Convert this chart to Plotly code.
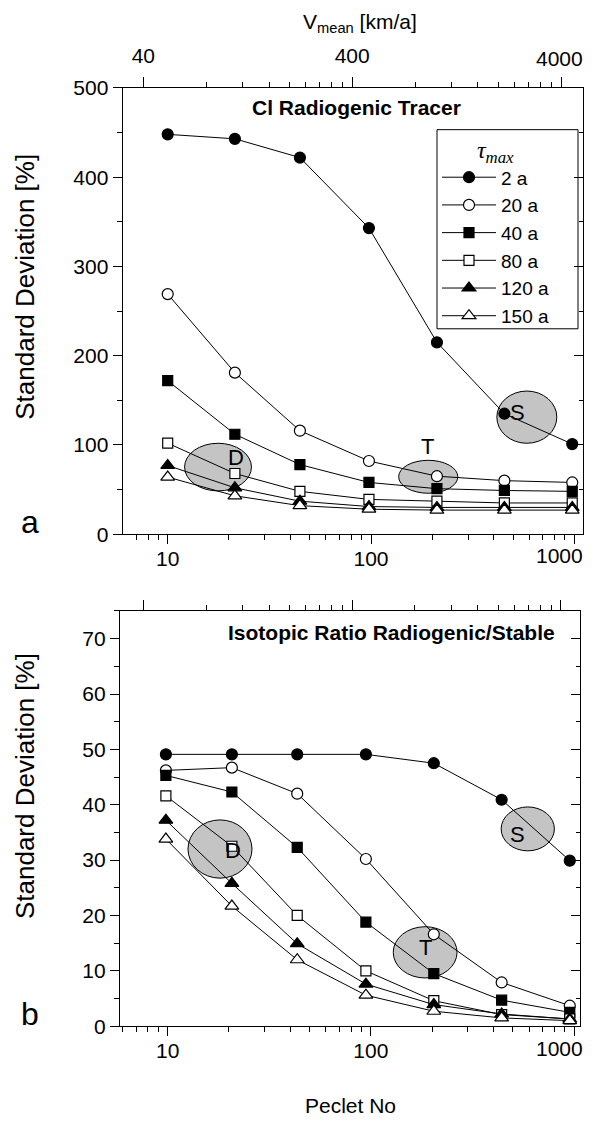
import math
import plotly.graph_objects as go

# ---------------- data ----------------
tau_labels = ["2 a", "20 a", "40 a", "80 a", "120 a", "150 a"]

pe_a = [10, 21.4, 44.7, 97.7, 211, 453, 977]
sd_a_2 = [448, 443, 422, 343, 215, 135, 101]
sd_a_20 = [269, 181, 116, 82, 65, 60, 58]
sd_a_40 = [172, 112, 78, 58, 51, 49, 48]
sd_a_80 = [102, 68, 48, 39, 37, 35, 35]
sd_a_120 = [77, 52, 37, 31, 30, 30, 30]
sd_a_150 = [64, 43, 32, 28, 27, 27, 27]

pe_b = [9.8, 20.7, 43.4, 94.5, 204, 440, 952]
sd_b_2 = [49.1, 49.1, 49.1, 49.1, 47.5, 40.9, 29.9]
sd_b_20 = [46.2, 46.7, 42.0, 30.2, 16.6, 7.9, 3.7]
sd_b_40 = [45.3, 42.3, 32.3, 18.8, 9.5, 4.7, 2.5]
sd_b_80 = [41.6, 32.5, 20.0, 10.0, 4.6, 2.1, 1.3]
sd_b_120 = [37.2, 25.8, 14.9, 7.6, 3.9, 2.2, 1.3]
sd_b_150 = [33.8, 21.7, 12.0, 5.6, 2.7, 1.5, 1.0]

pe_ticks = [10, 100, 1000]
v_ticks = [40, 400, 4000]

# ---------------- page geometry ----------------
W, H = 584, 1126
SY, OY = 0.979, 11.4   # observed page mapping (vertical)


def px_x(X):
    return X / W


def px_y(Y):
    return 1 - ((Y - OY) / SY) / H


FONT = "Liberation Sans, Arial, Helvetica, sans-serif"
styles = [
    dict(symbol="circle", color="black", size=11),
    dict(symbol="circle", color="white", size=11),
    dict(symbol="square", color="black", size=10),
    dict(symbol="square", color="white", size=10),
    dict(symbol="triangle-up", color="black", size=12),
    dict(symbol="triangle-up", color="white", size=12),
]

series_a = [sd_a_2, sd_a_20, sd_a_40, sd_a_80, sd_a_120, sd_a_150]
series_b = [sd_b_2, sd_b_20, sd_b_40, sd_b_80, sd_b_120, sd_b_150]

fig = go.Figure()
for lab, ys, st in zip(tau_labels, series_a, styles):
    fig.add_trace(go.Scatter(
        x=pe_a, y=ys, name=lab, mode="lines+markers", xaxis="x", yaxis="y",
        line=dict(color="black", width=1),
        marker=dict(symbol=st["symbol"], size=st["size"], color=st["color"],
                    line=dict(color="black", width=1.2)),
        showlegend=True))
for lab, ys, st in zip(tau_labels, series_b, styles):
    fig.add_trace(go.Scatter(
        x=pe_b, y=ys, name=lab, mode="lines+markers", xaxis="x2", yaxis="y2",
        line=dict(color="black", width=1),
        marker=dict(symbol=st["symbol"], size=st["size"], color=st["color"],
                    line=dict(color="black", width=1.2)),
        showlegend=False))

# empty helper traces so overlay axes are drawn
for xa, ya in [("x3", "y"), ("x", "y3"), ("x4", "y2"), ("x2", "y4")]:
    fig.add_trace(go.Scatter(x=[], y=[], xaxis=xa, yaxis=ya, showlegend=False,
                             hoverinfo="skip"))

# ---------------- axes ----------------
XR_A = [0.7786, 3.0443]
XR_B = [0.7654, 3.029]


def v_range(xr):
    return [math.log10(40) + (xr[0] - 0.88) * 0.9732,
            math.log10(40) + (xr[1] - 0.88) * 0.9732]


pe_minor = [m * 10 ** e for e in range(0, 4) for m in range(2, 10)]
v_minor = [m * 4 * 10 ** e for e in range(1, 4) for m in range(2, 10)]

# the right-most tick labels would run past the page edge, so they are
# written as right-aligned annotations instead of axis tick labels
pe_ticktext = [str(t) for t in pe_ticks[:-1]] + [""]
v_ticktext = [str(t) for t in v_ticks[:-1]] + [""]

MINOR_OUT = dict(ticks="outside", ticklen=5, tickcolor="black", tickwidth=1.1)
MINOR_IN = dict(ticks="inside", ticklen=4, tickcolor="black", tickwidth=1.1)
AX = dict(showline=True, linecolor="black", linewidth=1.3, showgrid=False,
          zeroline=False, ticks="outside", tickcolor="black", tickwidth=1.2,
          ticklen=9, tickfont=dict(family=FONT, size=21, color="black"))

dom_a_x = [px_x(122.7), px_x(583.3)]
dom_a_y = [px_y(533.3), px_y(87.3)]
dom_b_x = [px_x(120), px_x(580)]
dom_b_y = [px_y(1025), px_y(610)]

layout_axes = dict(
    xaxis=dict(AX, type="log", range=XR_A, domain=dom_a_x, anchor="y",
               tickmode="array", tickvals=pe_ticks, ticktext=pe_ticktext,
               ticklabelstandoff=-4,
               minor=dict(MINOR_OUT, tickmode="array", tickvals=pe_minor)),
    yaxis=dict(AX, range=[0, 500], domain=dom_a_y, anchor="x", dtick=100,
               minor=dict(MINOR_OUT, dtick=50)),
    xaxis3=dict(AX, type="log", range=v_range(XR_A), overlaying="x", side="top",
                anchor="y", tickmode="array", tickvals=v_ticks, ticklen=10,
                ticktext=v_ticktext, ticklabelstandoff=5,
                minor=dict(MINOR_OUT, tickmode="array", tickvals=v_minor)),
    yaxis3=dict(AX, range=[0, 500], overlaying="y", side="right", anchor="x",
                dtick=100, ticks="inside", showticklabels=False,
                minor=dict(MINOR_IN, dtick=50)),
    xaxis2=dict(AX, type="log", range=XR_B, domain=dom_b_x, anchor="y2",
                tickmode="array", tickvals=pe_ticks, ticktext=pe_ticktext,
                ticklabelstandoff=-4,
                minor=dict(MINOR_OUT, tickmode="array", tickvals=pe_minor)),
    yaxis2=dict(AX, range=[0, 75], domain=dom_b_y, anchor="x2", dtick=10,
                minor=dict(MINOR_OUT, dtick=5)),
    xaxis4=dict(AX, type="log", range=v_range(XR_B), overlaying="x2", side="top",
                anchor="y2", tickmode="array", tickvals=v_ticks, ticklen=10,
                showticklabels=False,
                minor=dict(MINOR_OUT, tickmode="array", tickvals=v_minor)),
    yaxis4=dict(AX, range=[0, 75], overlaying="y2", side="right", anchor="x2",
                dtick=10, ticks="inside", showticklabels=False,
                minor=dict(MINOR_IN, dtick=5)),
)

# ---------------- ellipses & labels ----------------
def dom(logv, xr):
    return (logv - xr[0]) / (xr[1] - xr[0])

ell_a = [  # (log x0, log x1, y0, y1)
    (1.083, 1.412, 48.5, 101.9),
    (2.136, 2.427, 45.9, 82.8),
    (2.619, 2.914, 101.9, 160.4),
]
lab_a = [("D", 1.288, 85.8), ("T", 2.28, 97.8), ("S", 2.766, 136)]
ell_b = [
    (1.100, 1.415, 26.74, 37.26),
    (2.110, 2.424, 8.71, 17.97),
    (2.641, 2.903, 31.67, 39.6),
]
lab_b = [("D", 1.271, 31.7), ("T", 2.271, 14.24), ("S", 2.769, 34.7)]

shapes = []
annotations = []
for (x0, x1, y0, y1) in ell_a:
    shapes.append(dict(type="circle", xref="x domain", yref="y",
                       x0=dom(x0, XR_A), x1=dom(x1, XR_A), y0=y0, y1=y1,
                       fillcolor="#c4c4c4", line=dict(color="black", width=1),
                       layer="below"))
for (x0, x1, y0, y1) in ell_b:
    shapes.append(dict(type="circle", xref="x2 domain", yref="y2",
                       x0=dom(x0, XR_B), x1=dom(x1, XR_B), y0=y0, y1=y1,
                       fillcolor="#c4c4c4", line=dict(color="black", width=1),
                       layer="below"))
# legend frame
shapes.append(dict(type="rect", xref="paper", yref="paper",
                   x0=px_x(437), x1=px_x(578), y0=px_y(328), y1=px_y(129),
                   fillcolor="white", line=dict(color="black", width=1),
                   layer="below"))

for t, lx, ly in lab_a:
    annotations.append(dict(text=t, xref="x domain", yref="y", x=dom(lx, XR_A), y=ly,
                            showarrow=False, font=dict(family=FONT, size=22, color="black")))
for t, lx, ly in lab_b:
    annotations.append(dict(text=t, xref="x2 domain", yref="y2", x=dom(lx, XR_B), y=ly,
                            showarrow=False, font=dict(family=FONT, size=22, color="black")))

texts = [
    ("<b>Cl Radiogenic Tracer</b>", 356, 107, 21, 0, "center"),
    ("<b>Isotopic Ratio Radiogenic/Stable</b>", 556, 632, 21, 0, "right"),
    ("Standard Deviation [%]", 25, 286, 26, -90, "center"),
    ("Standard Deviation [%]", 25, 785, 26, -90, "center"),
    ("Peclet No", 350, 1104, 21, 0, "center"),
    ("V<sub>mean</sub> [km/a]", 360, 22, 21, 0, "center"),
    ("a", 30, 521, 32, 0, "center"),
    ("b", 30, 1013, 32, 0, "center"),
    (str(v_ticks[-1]), 583.5, 58, 21, 0, "right"),
    (str(pe_ticks[-1]), 583.5, 555, 21, 0, "right"),
    (str(pe_ticks[-1]), 583.5, 1047, 21, 0, "right"),
]
for t, X, Y, sz, ang, xa in texts:
    annotations.append(dict(text=t, xref="paper", yref="paper", x=px_x(X), y=px_y(Y),
                            xanchor=xa, yanchor="middle", showarrow=False,
                            textangle=ang, borderpad=0,
                            font=dict(family=FONT, size=sz, color="black")))

fig.update_layout(
    width=W, height=H, autosize=False,
    margin=dict(l=0, r=0, t=0, b=0),
    paper_bgcolor="white", plot_bgcolor="white",
    font=dict(family=FONT, color="black"),
    showlegend=True,
    legend=dict(x=px_x(437), y=px_y(126.5), xanchor="left", yanchor="top",
                borderwidth=0, bgcolor="rgba(0,0,0,0)",
                font=dict(family=FONT, size=19, color="black"),
                itemwidth=54,
                title=dict(text="<i>τ</i><sub><i>max</i></sub>", side="top center",
                           font=dict(family="Liberation Serif, Times New Roman, serif",
                                     size=24, color="black"))),
    shapes=shapes, annotations=annotations,
    **layout_axes,
)

fig.write_html("out.html")
